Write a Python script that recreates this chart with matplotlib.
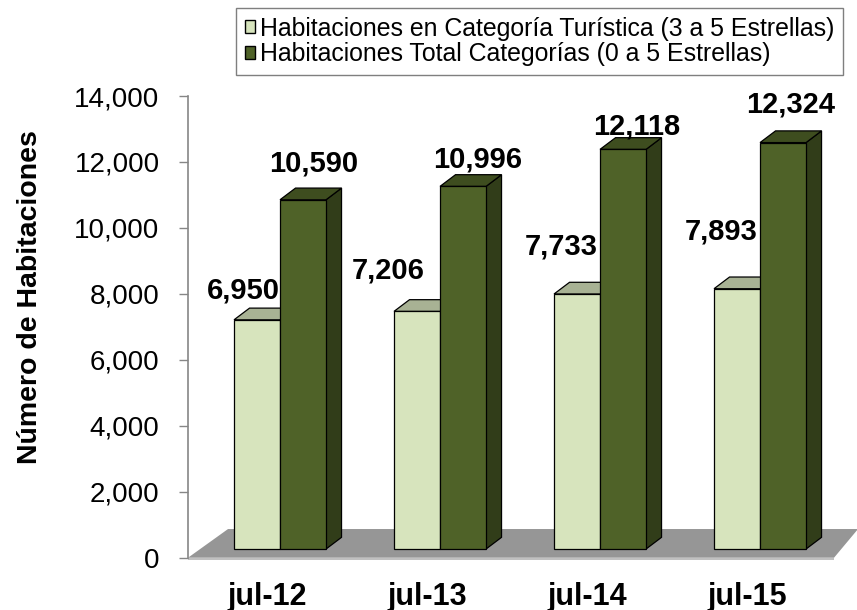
import matplotlib

matplotlib.use("Agg")
import matplotlib.pyplot as plt
import numpy as np
from matplotlib.patches import Patch, Polygon
from matplotlib.ticker import FuncFormatter, MultipleLocator

plt.rcParams["font.family"] = ["Liberation Sans", "DejaVu Sans"]

periods = ["jul-12", "jul-13", "jul-14", "jul-15"]
tourist_rooms = [6950, 7206, 7733, 7893]
total_rooms = [10590, 10996, 12118, 12324]
series_names = [
    "Habitaciones en Categoría Turística (3 a 5 Estrellas)",
    "Habitaciones Total Categorías (0 a 5 Estrellas)",
]

# label nudges in pixels (right, up) from the front-top centre of each bar
tourist_label_nudge = [(-14, 21), (-29, 33), (-16, 39), (-16, 49)]
total_label_nudge = [(11, 28), (15, 19), (14, 15), (8, 30)]

LIGHT_FRONT = "#d7e4bd"
LIGHT_TOP = "#a8b294"
DARK_FRONT = "#4f6228"
DARK_TOP = "#3e4d1f"
DARK_SIDE = "#313d19"
FLOOR = "#969696"
FLOOR_EDGE = "#c0c0c0"
AXIS_GREY = "#868686"

DPI = 100
fig = plt.figure(figsize=(8.57, 6.10), dpi=DPI)
ax = fig.add_axes([0.2194, 0.0857, 0.7806, 0.7569])
ax.set_ylim(0, 14000)
ax.set_xlim(-0.575, len(periods) - 0.394)


def px(dx, dy=0.0):
    """pixel distances -> data distances"""
    pos = ax.get_position()
    x0, x1 = ax.get_xlim()
    y0, y1 = ax.get_ylim()
    w = fig.get_figwidth() * DPI * pos.width
    h = fig.get_figheight() * DPI * pos.height
    return dx * (x1 - x0) / w, dy * (y1 - y0) / h


def pt(v):
    return v * 72.0 / DPI


bar_w, _ = px(46)
depth_x, depth_y = px(15.5, 11.7)
_, lift = px(0, 8.7)

# floor
fl_l, _ = px(-92)
fl_r, _ = px(554)
fl_bl, _ = px(-52)
fl_br, _ = px(578)
_, fl_d = px(0, 28.7)
_, fl_edge = px(0, 2.2)
floor = Polygon(
    [(fl_l, 0), (fl_r, 0), (fl_br, fl_d), (fl_bl, fl_d)],
    closed=True, facecolor=FLOOR, edgecolor="none", zorder=1,
)
floor_strip = Polygon(
    [(fl_l, 0), (fl_r, 0), (fl_r, -fl_edge), (fl_l, -fl_edge)],
    closed=True, facecolor=FLOOR_EDGE, edgecolor="none", zorder=1, clip_on=False,
)
ax.add_patch(floor)
ax.add_patch(floor_strip)

x = np.arange(len(periods))
light = ax.bar(x - bar_w / 2, tourist_rooms, bar_w, bottom=lift,
               color=LIGHT_FRONT, edgecolor="black", linewidth=0.9, zorder=3)
dark = ax.bar(x + bar_w / 2, total_rooms, bar_w, bottom=lift,
              color=DARK_FRONT, edgecolor="black", linewidth=0.9, zorder=6)


def add_depth(rect, top_color, side_color, z):
    x0, y0 = rect.get_x(), rect.get_y()
    w, h = rect.get_width(), rect.get_height()
    top = [(x0, y0 + h), (x0 + w, y0 + h),
           (x0 + w + depth_x, y0 + h + depth_y), (x0 + depth_x, y0 + h + depth_y)]
    side = [(x0 + w, y0), (x0 + w + depth_x, y0 + depth_y),
            (x0 + w + depth_x, y0 + h + depth_y), (x0 + w, y0 + h)]
    ax.add_patch(Polygon(side, closed=True, facecolor=side_color,
                         edgecolor="black", linewidth=0.9, zorder=z))
    ax.add_patch(Polygon(top, closed=True, facecolor=top_color,
                         edgecolor="black", linewidth=0.9, zorder=z))


for rect in light:
    add_depth(rect, LIGHT_TOP, LIGHT_TOP, 2.5)
for rect in dark:
    add_depth(rect, DARK_TOP, DARK_SIDE, 5.5)

# data labels
for bars, vals, nudges, z in [
    (light, tourist_rooms, tourist_label_nudge, 4),
    (dark, total_rooms, total_label_nudge, 7),
]:
    for rect, v, (nx, ny) in zip(bars, vals, nudges):
        cx = rect.get_x() + rect.get_width() / 2
        ax.annotate(f"{v:,}", xy=(cx, rect.get_y() + rect.get_height()),
                    xytext=(pt(nx), pt(ny)), textcoords="offset points",
                    ha="center", va="baseline", fontsize=21,
                    fontweight="bold", zorder=z)

# category labels along the front edge of the floor
for xi, name in zip(x, periods):
    ax.annotate(name, xy=(xi, 0), xytext=(pt(-13), pt(-24)),
                textcoords="offset points", ha="center", va="top",
                fontsize=22, fontweight="bold", annotation_clip=False)

for side in ["top", "right", "bottom"]:
    ax.spines[side].set_visible(False)
ax.spines["left"].set_color(AXIS_GREY)
ax.spines["left"].set_linewidth(1.2)
ax.set_xticks([])
ax.yaxis.set_major_locator(MultipleLocator(2000))
ax.yaxis.set_major_formatter(FuncFormatter(lambda v, _: f"{v:,.0f}"))
ax.tick_params(axis="y", direction="out", length=6.5, width=1,
               color=AXIS_GREY, labelsize=20, pad=14)

ax.set_ylabel("Número de Habitaciones", fontsize=20.5, fontweight="bold")
ax.yaxis.set_label_coords(-0.217, 0.565)

handles = [
    Patch(facecolor=LIGHT_FRONT, edgecolor="black"),
    Patch(facecolor=DARK_FRONT, edgecolor="black"),
]
leg = fig.legend(handles, series_names, loc="upper right",
                 bbox_to_anchor=(843 / 857, 1 - 8 / 610), fontsize=17.9,
                 handlelength=0.42, handleheight=0.42, handletextpad=0.2,
                 labelspacing=0.05, borderpad=0.35, borderaxespad=0,
                 fancybox=False, framealpha=1, edgecolor="#7f7f7f")
leg.get_frame().set_linewidth(1.0)

fig.savefig("out.png", dpi=DPI)
